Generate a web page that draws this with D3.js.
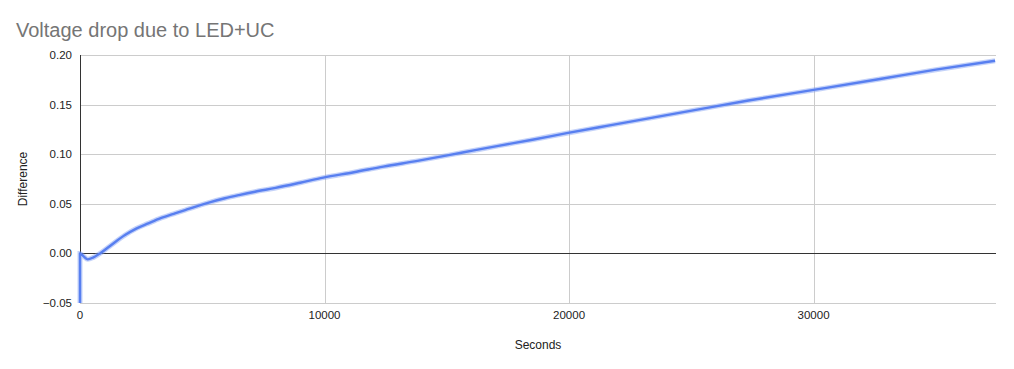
<!DOCTYPE html>
<html>
<head>
<meta charset="utf-8">
<script src="https://cdn.jsdelivr.net/npm/d3@7"></script>
<style>
  body { margin: 0; background: #fff; }
  svg { display: block; font-family: Arial, "Liberation Sans", sans-serif; }
</style>
</head>
<body>
<svg id="chart" width="1014" height="369"></svg>
<script>
// values
const seconds    = [0, 0, 150, 315, 550, 818, 1200, 1840, 2300, 2795, 3300, 3885, 4300, 4703, 5300, 5930, 6500, 7157,
                    8000, 9000, 9951, 11200, 12405, 13800, 15133, 16100, 17109, 18500, 19906, 21600, 23313, 25300,
                    27334, 30000, 32720, 35000, 37423];
const difference = [-0.05, 0.0, -0.003, -0.006, -0.004, 0.0, 0.007, 0.0185, 0.025, 0.0303, 0.0355, 0.0404, 0.0437, 0.047, 0.0515, 0.0556, 0.0588, 0.0622,
                    0.066, 0.0712, 0.0764, 0.0818, 0.0875, 0.0933, 0.0993, 0.1038, 0.1084, 0.1146, 0.1212, 0.1288, 0.1364, 0.1452,
                    0.1541, 0.1648, 0.1758, 0.1852, 0.1942];
const yTicks = [-0.05, 0, 0.05, 0.10, 0.15, 0.20];
const xTicks = [0, 10000, 20000, 30000];

const svg = d3.select('#chart');
const margin = { left: 80, right: 18, top: 55, bottom: 66 };
const width = 1014, height = 369;

const x = d3.scaleLinear().domain([0, 37460]).range([margin.left, width - margin.right]);
const y = d3.scaleLinear().domain([-0.05, 0.20]).range([height - margin.bottom, margin.top]);

// title
svg.append('text')
    .attr('x', 16).attr('y', 37)
    .attr('fill', '#757575')
    .attr('font-size', 20)
    .text('Voltage drop due to LED+UC');

// grid
svg.append('g')
  .selectAll('line.h')
  .data(yTicks.filter(d => d !== 0))
  .enter().append('line')
    .attr('x1', x(0)).attr('x2', x.range()[1])
    .attr('y1', d => Math.round(y(d)) + 0.5).attr('y2', d => Math.round(y(d)) + 0.5)
    .attr('stroke', '#cccccc');

svg.append('g')
  .selectAll('line.v')
  .data(xTicks.filter(d => d !== 0))
  .enter().append('line')
    .attr('x1', d => Math.round(x(d)) + 0.5).attr('x2', d => Math.round(x(d)) + 0.5)
    .attr('y1', y.range()[1]).attr('y2', y.range()[0])
    .attr('stroke', '#cccccc');

// zero baseline and left axis
svg.append('line')
    .attr('x1', x(0)).attr('x2', x.range()[1])
    .attr('y1', Math.round(y(0)) + 0.5).attr('y2', Math.round(y(0)) + 0.5)
    .attr('stroke', '#333');
svg.append('line')
    .attr('x1', Math.round(x(0)) + 0.5).attr('x2', Math.round(x(0)) + 0.5)
    .attr('y1', y.range()[1]).attr('y2', y.range()[0])
    .attr('stroke', '#333');

// tick labels
svg.append('g')
  .selectAll('text')
  .data(yTicks)
  .enter().append('text')
    .attr('x', 72).attr('y', d => y(d) + 4)
    .attr('text-anchor', 'end')
    .attr('font-size', 11.5)
    .attr('fill', '#222')
    .text(d => d3.format('.2f')(d));

svg.append('g')
  .selectAll('text')
  .data(xTicks)
  .enter().append('text')
    .attr('x', d => x(d)).attr('y', 319)
    .attr('text-anchor', 'middle')
    .attr('font-size', 11.5)
    .attr('fill', '#222')
    .text(d => d);

// axis titles
svg.append('text')
    .attr('x', (x.range()[0] + x.range()[1]) / 2).attr('y', 349)
    .attr('text-anchor', 'middle')
    .attr('font-size', 12)
    .attr('fill', '#222')
    .text('Seconds');

svg.append('text')
    .attr('transform', 'translate(27,' + ((y.range()[0] + y.range()[1]) / 2) + ') rotate(-90)')
    .attr('text-anchor', 'middle')
    .attr('font-size', 12)
    .attr('fill', '#222')
    .text('Difference');

// series
const pts = seconds.map((s, i) => [s, difference[i]]);
const line = d3.line().x(d => x(d[0])).y(d => y(d[1])).curve(d3.curveMonotoneX);

svg.append('path')
    .datum(pts)
    .attr('d', line)
    .attr('fill', 'none')
    .attr('stroke', '#7d9cf2')
    .attr('stroke-opacity', 0.45)
    .attr('stroke-width', 5);

svg.append('path')
    .datum(pts)
    .attr('d', line)
    .attr('fill', 'none')
    .attr('stroke', '#587ff0')
    .attr('stroke-width', 2.4)
    .attr('stroke-linejoin', 'round');
</script>
</body>
</html>
